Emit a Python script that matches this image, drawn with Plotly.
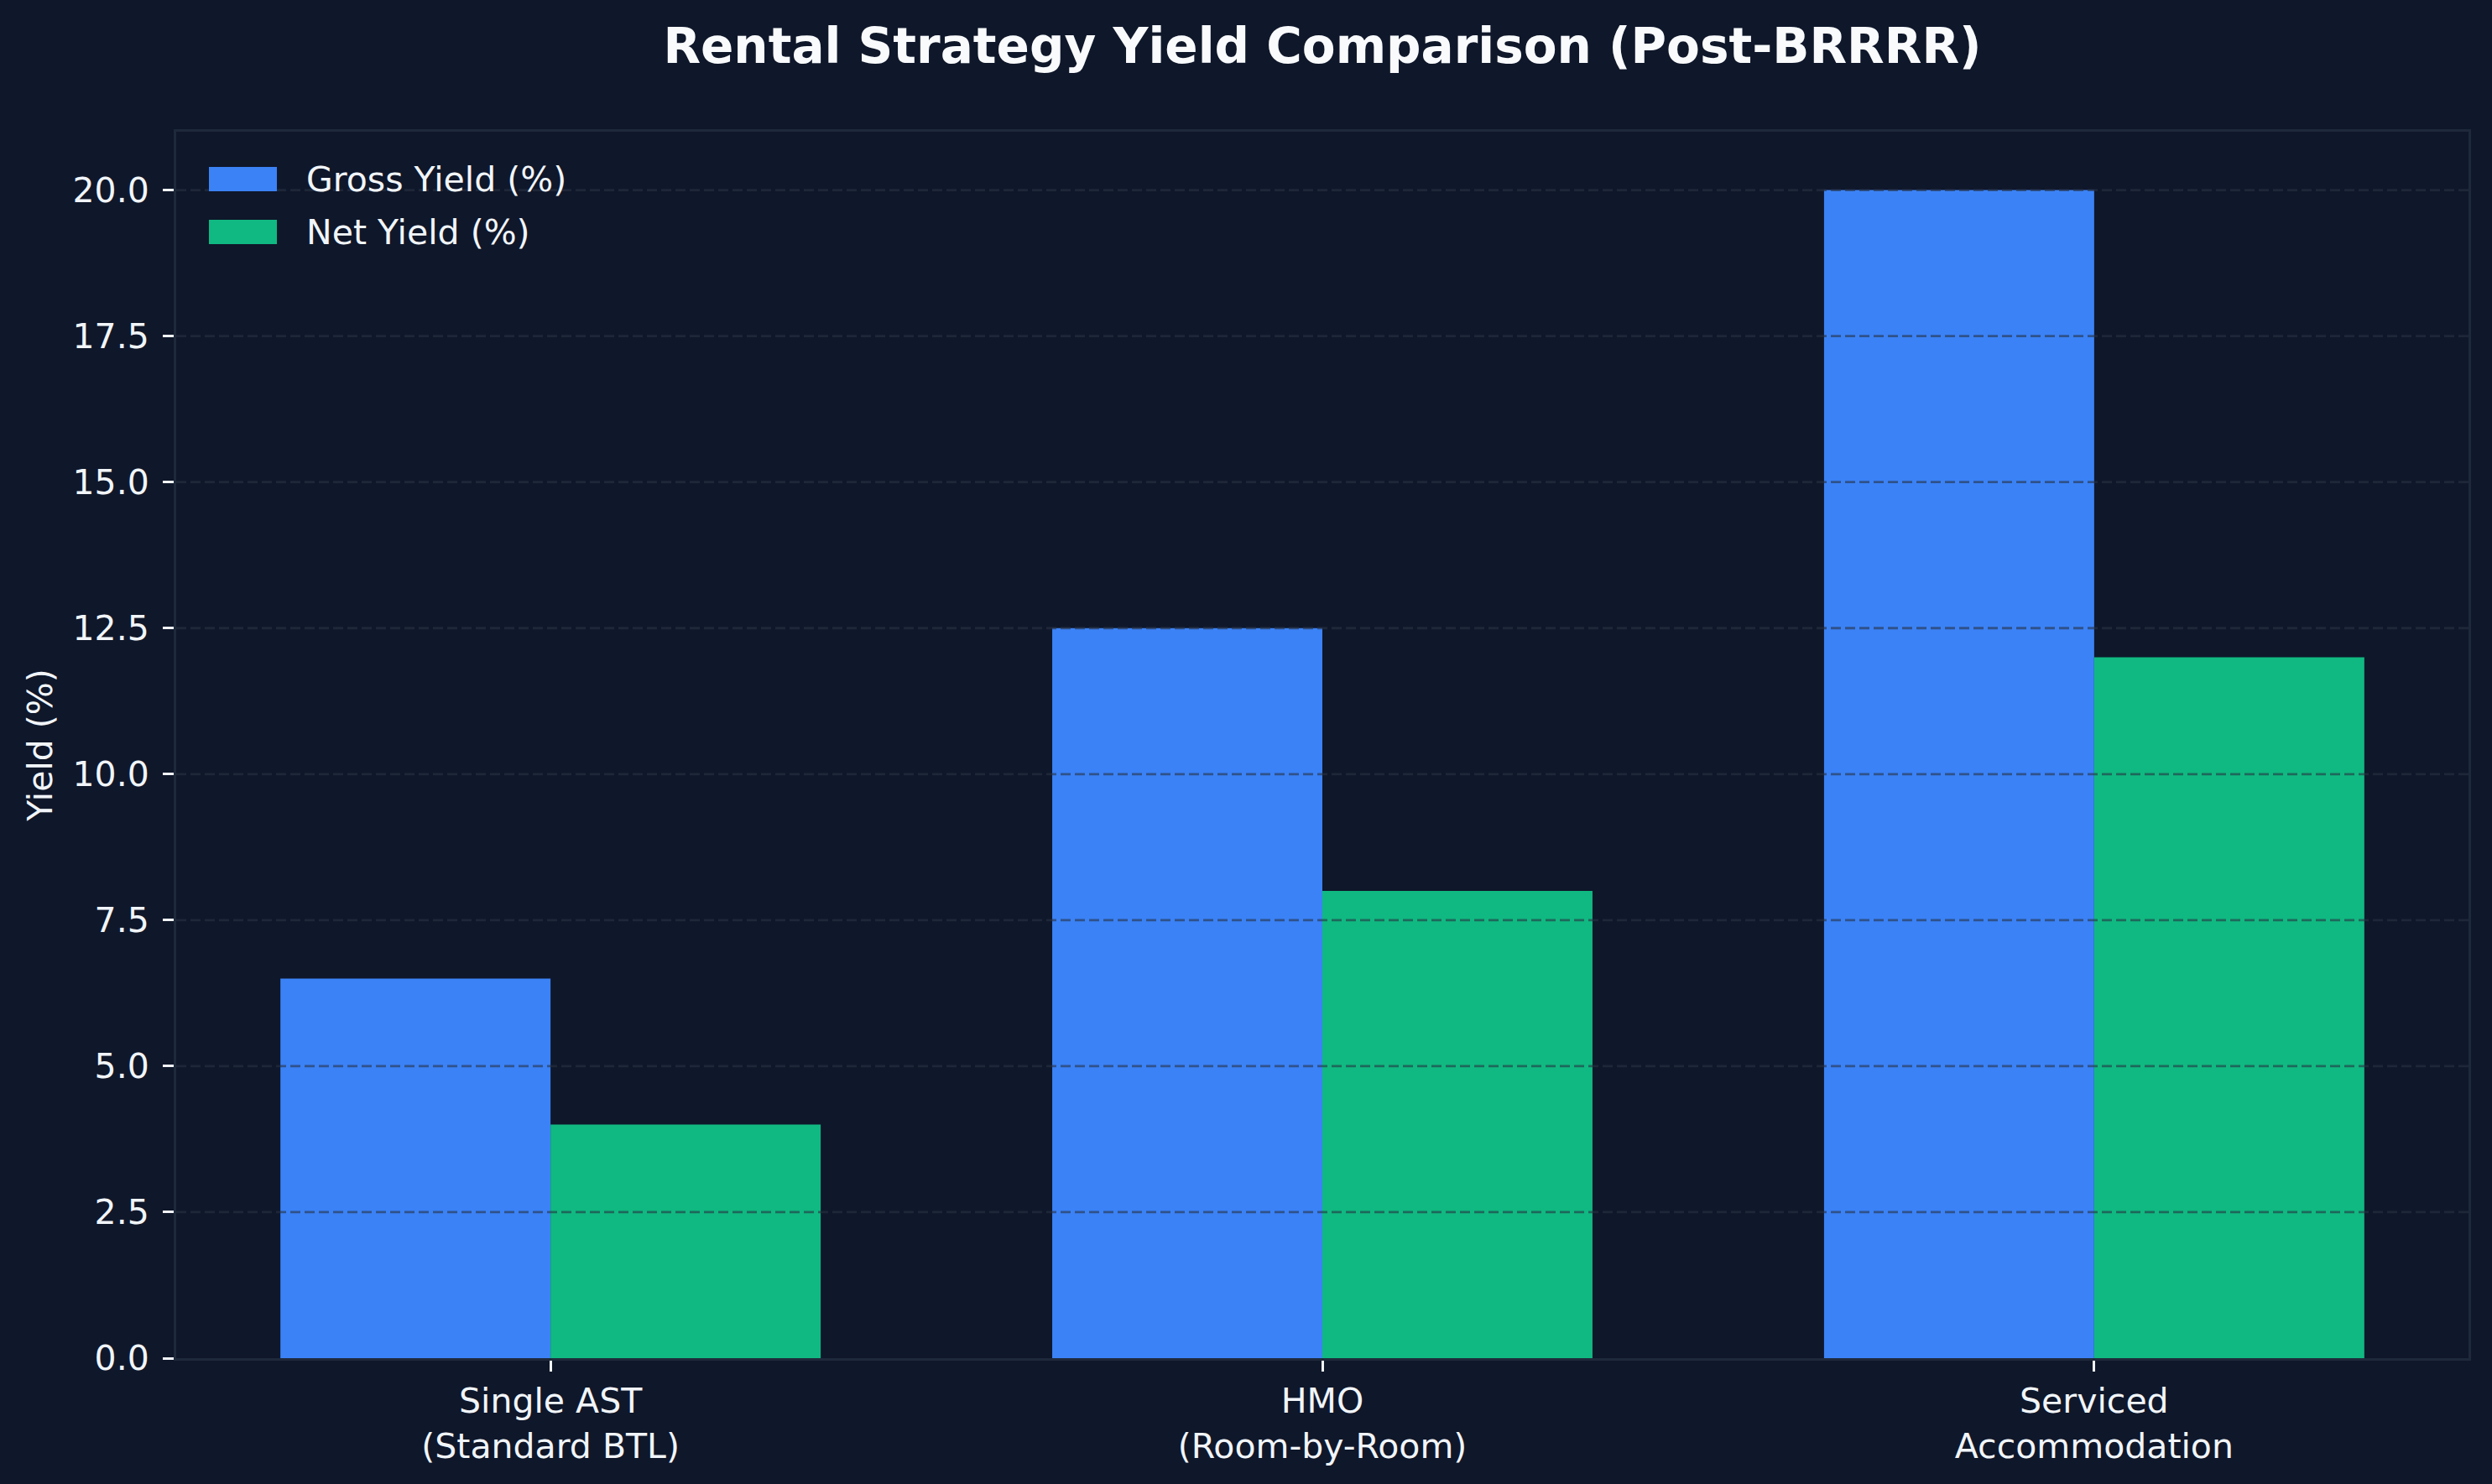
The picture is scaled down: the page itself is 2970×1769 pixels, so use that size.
import plotly.graph_objects as go

categories = ["Single AST<br>(Standard BTL)", "HMO<br>(Room-by-Room)", "Serviced<br>Accommodation"]
series_names = ["Gross Yield (%)", "Net Yield (%)"]
gross_yield = [6.5, 12.5, 20.0]
net_yield = [4.0, 8.0, 12.0]
y_ticks = [0.0, 2.5, 5.0, 7.5, 10.0, 12.5, 15.0, 17.5, 20.0]
y_tick_labels = ["0.0", "2.5", "5.0", "7.5", "10.0", "12.5", "15.0", "17.5", "20.0"]

BG = "#0f172a"
TEXT = "#f1f5f9"
SPINE = "#1e293b"
FONT = "DejaVu Sans"
COLORS = ["#3b82f6", "#10b981"]

W, H = 2970, 1769
L, R, T, B = 210, 28, 157, 150
PW, PH = W - L - R, H - T - B

fig = go.Figure()
for name, vals, col in zip(series_names, [gross_yield, net_yield], COLORS):
    fig.add_trace(go.Bar(name=name, x=categories, y=vals,
                         marker=dict(color=col, line=dict(width=0)), showlegend=False))

# dashed grid drawn above bars (as in the reference)
for v in y_ticks[1:]:
    fig.add_shape(type="line", xref="paper", yref="y", x0=0, x1=1, y0=v, y1=v,
                  layer="above", line=dict(color="rgba(40,50,66,0.6)", width=2.8, dash="12px,5px"))

# legend (matplotlib-style wide swatches), upper-left inside the axes
sw_x0, sw_w, sw_h, txt_gap = 39, 81, 29, 33
for i, (name, col) in enumerate(zip(series_names, COLORS)):
    top = 42 + i * 63
    fig.add_shape(type="rect", xref="paper", yref="paper",
                  x0=sw_x0 / PW, x1=(sw_x0 + sw_w) / PW,
                  y0=1 - (top + sw_h) / PH, y1=1 - top / PH,
                  fillcolor=col, line=dict(width=0), layer="above")
    fig.add_annotation(xref="paper", yref="paper",
                       x=(sw_x0 + sw_w + txt_gap) / PW, y=1 - (top + sw_h / 2) / PH,
                       xanchor="left", yanchor="middle", showarrow=False,
                       text=name, font=dict(family=FONT, size=41, color=TEXT))

fig.update_layout(
    width=W, height=H,
    margin=dict(l=L, r=R, t=T, b=B, pad=0),
    paper_bgcolor=BG, plot_bgcolor=BG,
    font=dict(family=FONT, color=TEXT, size=41),
    barmode="group", bargap=0.3, bargroupgap=0,
    title=dict(text="<b>Rental Strategy Yield Comparison (Post-BRRRR)</b>",
               font=dict(family=FONT, size=58, color="#f8fafc"),
               x=0.5, xanchor="center", xref="paper", y=1 - 55 / H, yref="container", yanchor="middle"),
    showlegend=False,
)

fig.update_xaxes(
    type="category", range=[-0.485, 2.485],
    showgrid=False, zeroline=False,
    showline=True, linecolor=SPINE, linewidth=3, mirror=True,
    ticks="outside", ticklen=13, tickwidth=2.5, tickcolor=TEXT,
    tickfont=dict(family=FONT, size=41, color=TEXT),
    layer="above traces",
)
fig.update_yaxes(
    range=[0, 21], tickvals=y_ticks, ticktext=y_tick_labels,
    showgrid=False, zeroline=False,
    showline=True, linecolor=SPINE, linewidth=3, mirror=True,
    ticks="outside", ticklen=13, tickwidth=2.5, tickcolor=TEXT,
    tickfont=dict(family=FONT, size=41, color=TEXT),
    ticklabelstandoff=8,
    title=dict(text="Yield (%)", font=dict(family=FONT, size=41, color=TEXT), standoff=12),
    layer="above traces",
)

fig.write_html("out.html")
